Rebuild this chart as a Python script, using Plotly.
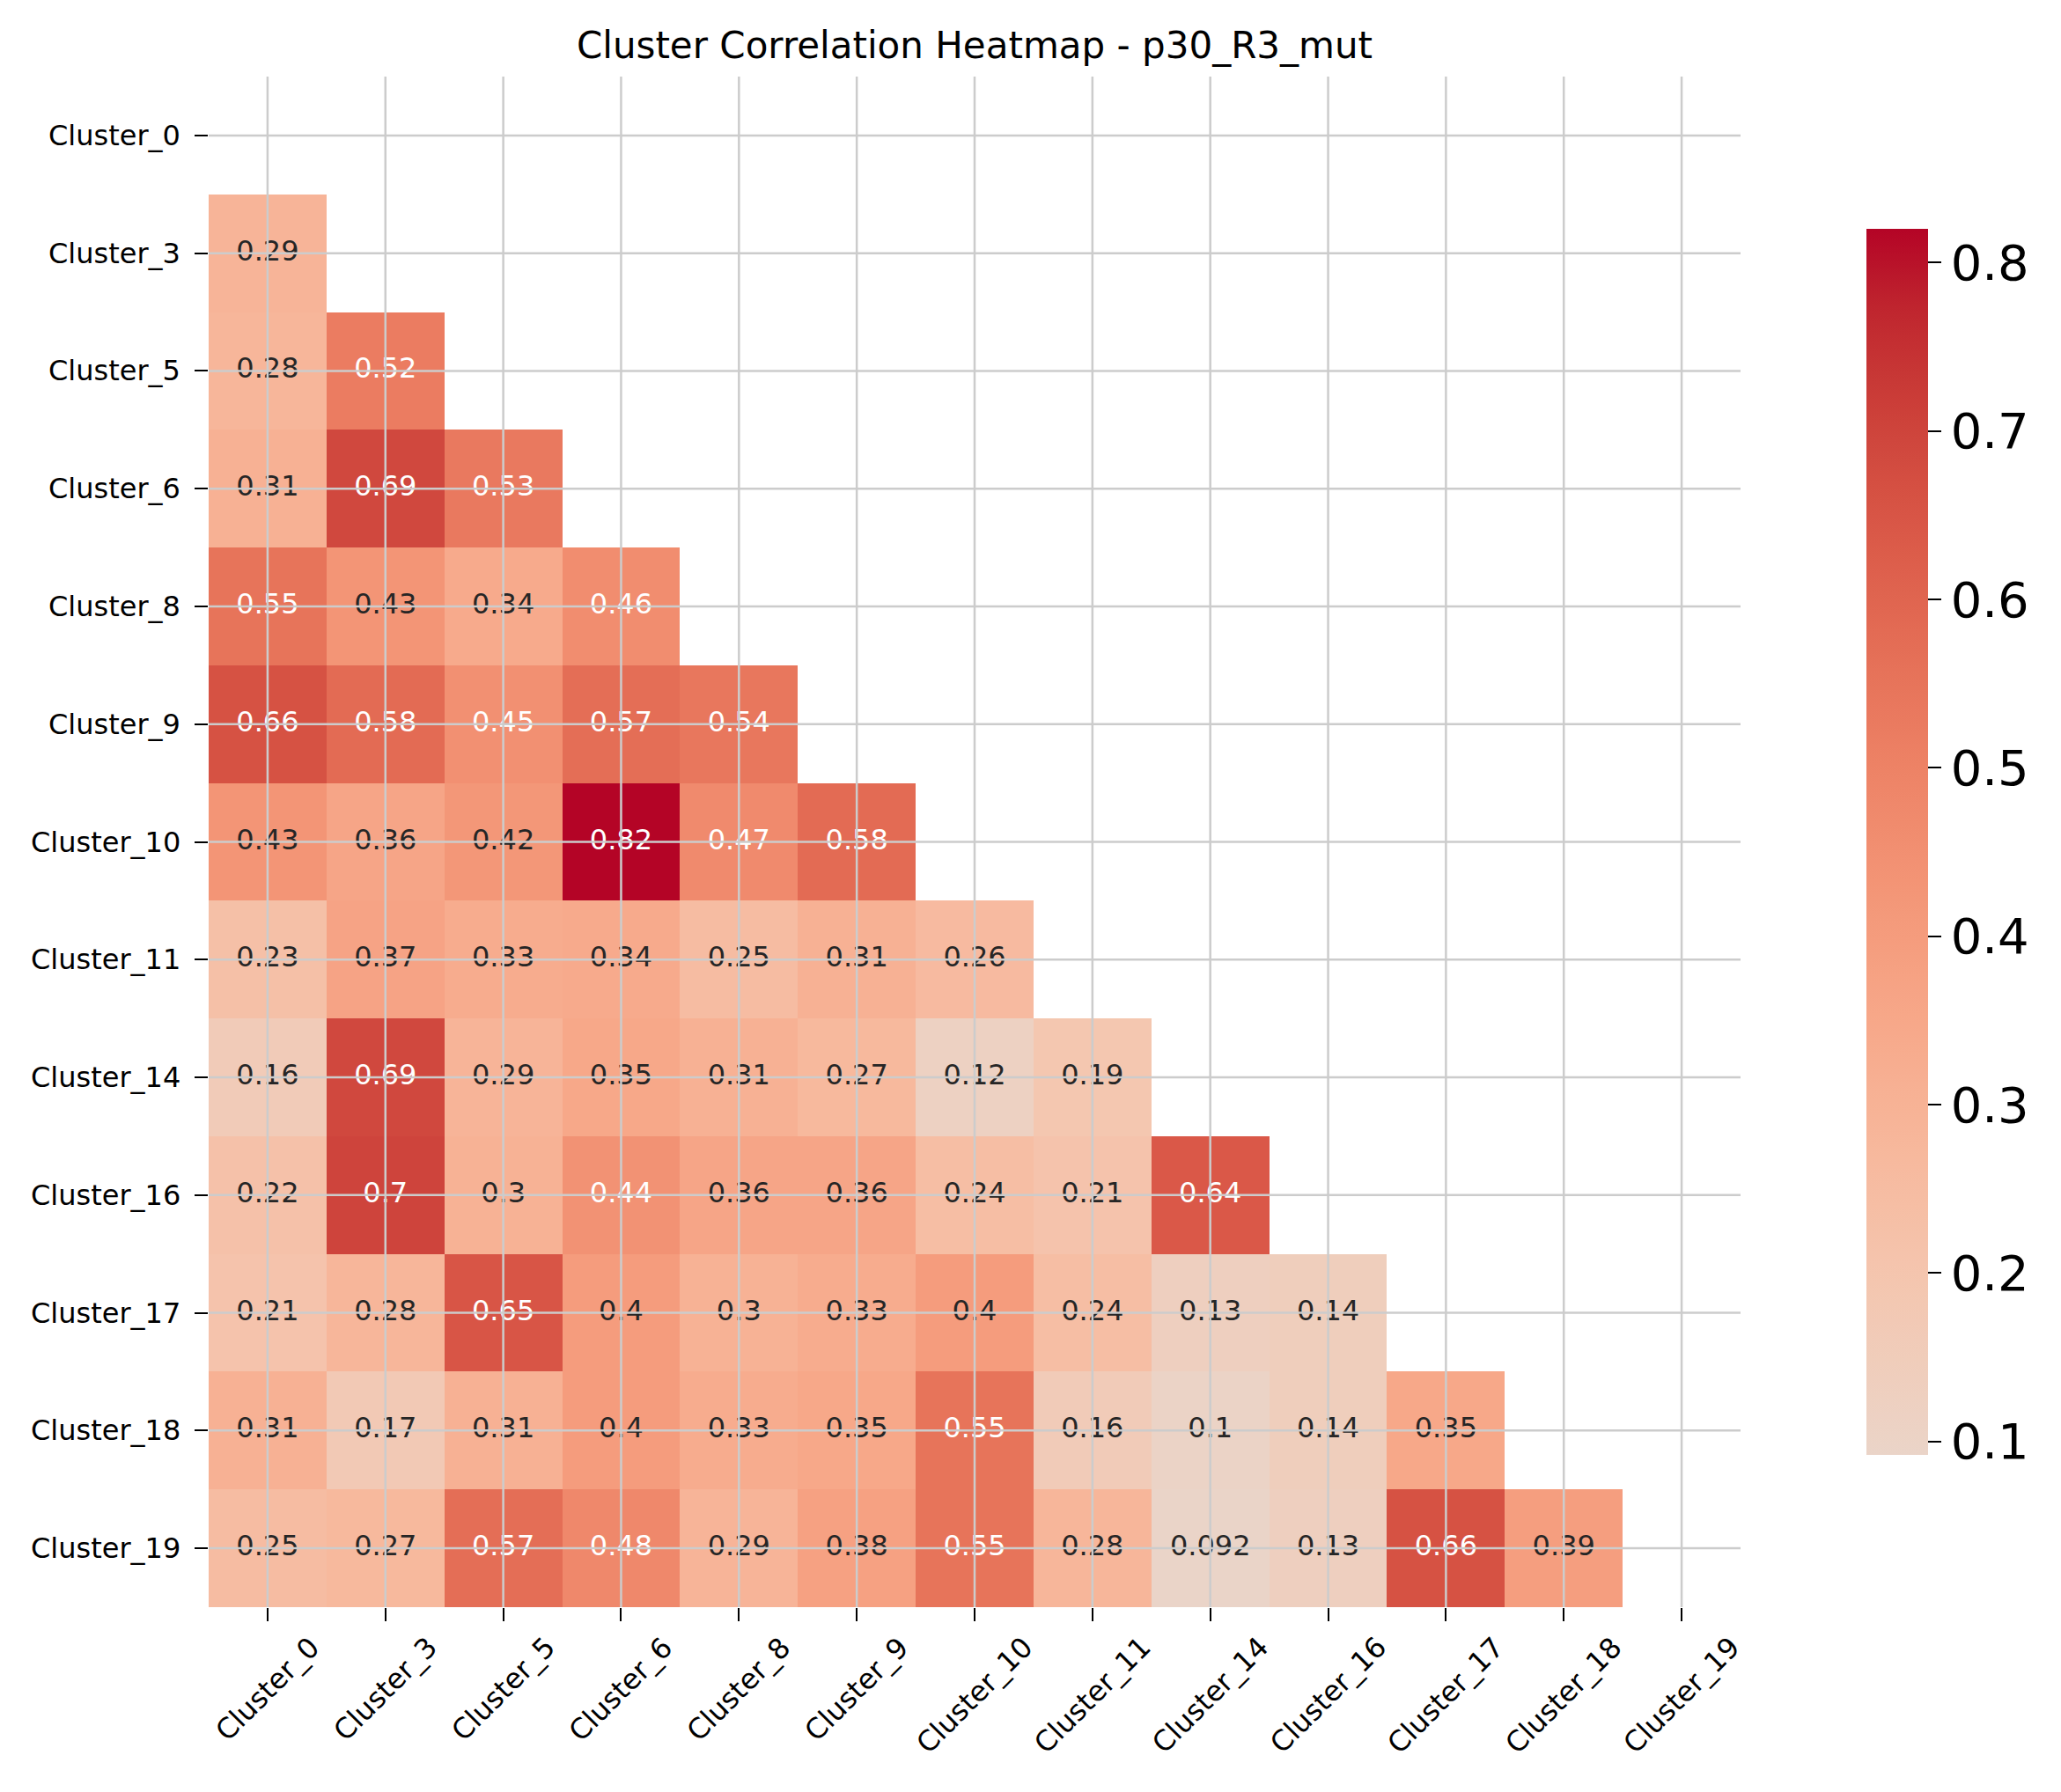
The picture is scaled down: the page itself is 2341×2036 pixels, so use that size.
import numpy as np
import plotly.graph_objects as go

# ---------------- data ----------------
labels = ["Cluster_0", "Cluster_3", "Cluster_5", "Cluster_6", "Cluster_8", "Cluster_9",
          "Cluster_10", "Cluster_11", "Cluster_14", "Cluster_16", "Cluster_17",
          "Cluster_18", "Cluster_19"]

row_cluster_0 = []
row_cluster_3 = [0.29]
row_cluster_5 = [0.28, 0.52]
row_cluster_6 = [0.31, 0.69, 0.53]
row_cluster_8 = [0.55, 0.43, 0.34, 0.46]
row_cluster_9 = [0.66, 0.58, 0.45, 0.57, 0.54]
row_cluster_10 = [0.43, 0.36, 0.42, 0.82, 0.47, 0.58]
row_cluster_11 = [0.23, 0.37, 0.33, 0.34, 0.25, 0.31, 0.26]
row_cluster_14 = [0.16, 0.69, 0.29, 0.35, 0.31, 0.27, 0.12, 0.19]
row_cluster_16 = [0.22, 0.70, 0.30, 0.44, 0.36, 0.36, 0.24, 0.21, 0.64]
row_cluster_17 = [0.21, 0.28, 0.65, 0.40, 0.30, 0.33, 0.40, 0.24, 0.13, 0.14]
row_cluster_18 = [0.31, 0.17, 0.31, 0.40, 0.33, 0.35, 0.55, 0.16, 0.10, 0.14, 0.35]
row_cluster_19 = [0.25, 0.27, 0.57, 0.48, 0.29, 0.38, 0.55, 0.28, 0.092, 0.13, 0.66, 0.39]

colorbar_ticks = [0.1, 0.2, 0.3, 0.4, 0.5, 0.6, 0.7, 0.8]

rows = [row_cluster_0, row_cluster_3, row_cluster_5, row_cluster_6, row_cluster_8,
        row_cluster_9, row_cluster_10, row_cluster_11, row_cluster_14, row_cluster_16,
        row_cluster_17, row_cluster_18, row_cluster_19]

n = len(labels)
z = [[(rows[i][j] if j < i else None) for j in range(n)] for i in range(n)]
vals = [v for r in rows for v in r]
zmin, zmax = min(vals), max(vals)

# ---------------- coolwarm (upper half), centred at 0 like seaborn ----------------
cw_t = [0.5, 0.53125, 0.5625, 0.59375, 0.625, 0.65625, 0.6875, 0.71875, 0.75,
        0.78125, 0.8125, 0.84375, 0.875, 0.90625, 0.9375, 0.96875, 1.0]
cw_r = [0.865395197, 0.897787179, 0.924127593, 0.944468518, 0.958852946, 0.96732803,
        0.969954137, 0.966811177, 0.958003065, 0.943660866, 0.923944917, 0.89904617,
        0.869186849, 0.834620542, 0.795631745, 0.752534934, 0.705673158]
cw_g = [0.86541021, 0.848937047, 0.827384882, 0.800927443, 0.769767752, 0.734132809,
        0.694266682, 0.650421156, 0.602842431, 0.551750968, 0.49730856, 0.439559467,
        0.378313092, 0.312874446, 0.24128379, 0.157246067, 0.01555616]
cw_b = [0.86541021, 0.820880546, 0.774508472, 0.726736146, 0.678007945, 0.628751763,
        0.579375448, 0.530263762, 0.481775914, 0.434243684, 0.387970225, 0.343229596,
        0.300267182, 0.259301199, 0.220525627, 0.184115123, 0.150232812]

vr = max(zmax, -zmin)
cmin = (zmin + vr) / (2 * vr)
cmax = (zmax + vr) / (2 * vr)


def cw(t):
    return (np.interp(t, cw_t, cw_r), np.interp(t, cw_t, cw_g), np.interp(t, cw_t, cw_b))


colorscale = []
for p in np.linspace(0, 1, 65):
    t = cmin + p * (cmax - cmin)
    r, g, b = cw(t)
    colorscale.append([float(p), f"rgb({int(round(r*255))},{int(round(g*255))},{int(round(b*255))})"])

FONT = "DejaVu Sans"

fig = go.Figure()
fig.add_trace(go.Heatmap(
    z=z, x=labels, y=labels,
    zmin=zmin, zmax=zmax,
    colorscale=colorscale,
    hoverongaps=False,
    xgap=0, ygap=0,
    colorbar=dict(
        x=1.0822, xanchor="left", xref="paper", xpad=0, ypad=0,
        y=0.5, yanchor="middle", len=0.801, lenmode="fraction",
        thickness=70, thicknessmode="pixels",
        outlinewidth=0,
        tickvals=colorbar_ticks,
        ticktext=[f"{v:g}" for v in colorbar_ticks],
        ticks="outside", ticklen=15, tickwidth=2, tickcolor="black",
        tickfont=dict(family=FONT, size=56, color="black"),
    ),
))

# cell annotations
tx, ty, tt, tc = [], [], [], []
for i in range(n):
    for j in range(i):
        v = rows[i][j]
        tx.append(labels[j])
        ty.append(labels[i])
        tt.append(format(v, ".2g"))
        tc.append("white" if v >= 0.435 else "#262626")
fig.add_trace(go.Scatter(
    x=tx, y=ty, text=tt, mode="text",
    textfont=dict(family=FONT, size=32, color=tc),
    hoverinfo="skip", showlegend=False,
))

shapes = []
for lab in labels:
    shapes.append(dict(type="line", xref="x", yref="paper", x0=lab, x1=lab, y0=0, y1=1,
                       line=dict(color="#cccccc", width=2.5), layer="above"))
    shapes.append(dict(type="line", xref="paper", yref="y", x0=0, x1=1, y0=lab, y1=lab,
                       line=dict(color="#cccccc", width=2.5), layer="above"))

annotations = []
for lab in labels:
    annotations.append(dict(x=lab, y=0, xref="x", yref="paper", text=lab, showarrow=False,
                            textangle=-45, xanchor="center", yanchor="top", yshift=-24,
                            font=dict(family=FONT, size=32, color="black")))
    annotations.append(dict(x=0, y=lab, xref="paper", yref="y", text=lab, showarrow=False,
                            xanchor="right", yanchor="middle", xshift=-30,
                            font=dict(family=FONT, size=32, color="black")))

fig.update_layout(
    width=2341, height=2036,
    margin=dict(l=237, r=364, t=87, b=210),
    paper_bgcolor="white", plot_bgcolor="white",
    title=dict(text="Cluster Correlation Heatmap - p30_R3_mut",
               x=0.5, xref="paper", xanchor="center",
               y=1 - 51 / 2036, yref="container", yanchor="middle",
               font=dict(family=FONT, size=42, color="black")),
    xaxis=dict(type="category", range=[-0.5, n - 0.5], showgrid=False, zeroline=False,
               showline=False, showticklabels=False, ticks="outside", ticklen=15,
               tickwidth=2, tickcolor="black"),
    yaxis=dict(type="category", range=[n - 0.5, -0.5], showgrid=False, zeroline=False,
               showline=False, showticklabels=False, ticks="outside", ticklen=15,
               tickwidth=2, tickcolor="black"),
    shapes=shapes,
    annotations=annotations,
    showlegend=False,
)

fig.write_html("out.html", config={"displayModeBar": False},
               post_script="document.body.style.margin='0';")
